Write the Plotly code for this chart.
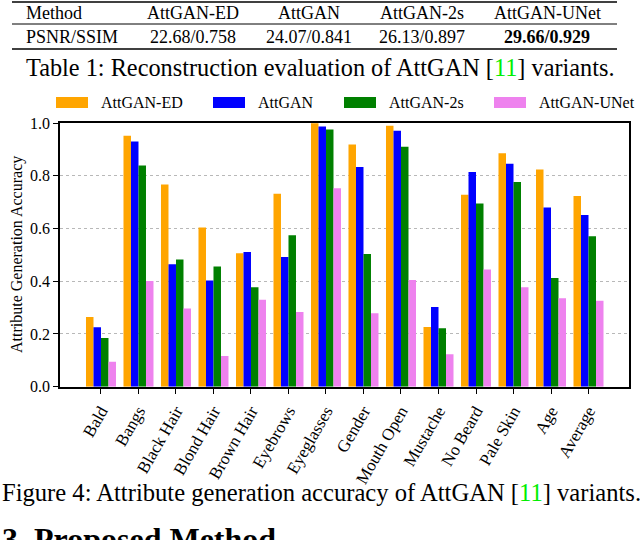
import plotly.graph_objects as go

attributes = ["Bald", "Bangs", "Black Hair", "Blond Hair", "Brown Hair", "Eyebrows",
              "Eyeglasses", "Gender", "Mouth Open", "Mustache", "No Beard",
              "Pale Skin", "Age", "Average"]
variants = ["AttGAN-ED", "AttGAN", "AttGAN-2s", "AttGAN-UNet"]
acc_ed = [0.264, 0.952, 0.767, 0.604, 0.506, 0.732, 0.999, 0.918, 0.990, 0.226, 0.728, 0.885, 0.824, 0.723]
acc_attgan = [0.225, 0.930, 0.464, 0.403, 0.511, 0.492, 0.987, 0.833, 0.971, 0.302, 0.814, 0.845, 0.680, 0.651]
acc_2s = [0.185, 0.839, 0.482, 0.456, 0.377, 0.574, 0.975, 0.503, 0.910, 0.222, 0.695, 0.776, 0.412, 0.571]
acc_unet = [0.095, 0.401, 0.297, 0.116, 0.330, 0.283, 0.753, 0.279, 0.405, 0.123, 0.444, 0.377, 0.335, 0.326]

table_header = ["Method", "AttGAN-ED", "AttGAN", "AttGAN-2s", "AttGAN-UNet"]
table_row = ["PSNR/SSIM", "22.68/0.758", "24.07/0.841", "26.13/0.897", "<b>29.66/0.929</b>"]

colors = ["orange", "blue", "green", "violet"]
serif = "Times New Roman, Liberation Serif, Tinos, serif"
W, H = 640, 540


def px(x):
    return x / W


def py(y):
    return 1 - y / H


fig = go.Figure()
for name, vals, c in zip(variants, [acc_ed, acc_attgan, acc_2s, acc_unet], colors):
    fig.add_trace(go.Bar(x=attributes, y=vals, name=name, marker_color=c,
                         marker_line_width=0, showlegend=False))

# table (booktabs style)
table_cols = [24, 193, 309, 422, 547]
shapes = [
    dict(type="line", xref="paper", yref="paper", x0=px(12), x1=px(617), y0=py(2), y1=py(2),
         line=dict(color="black", width=1.5)),
    dict(type="line", xref="paper", yref="paper", x0=px(12), x1=px(617), y0=py(24), y1=py(24),
         line=dict(color="black", width=1)),
    dict(type="line", xref="paper", yref="paper", x0=px(12), x1=px(617), y0=py(49), y1=py(49),
         line=dict(color="black", width=1.5)),
]
annotations = []
for i, (h, r) in enumerate(zip(table_header, table_row)):
    anchor = "left" if i == 0 else "center"
    annotations.append(dict(text=h, x=px(table_cols[i]), y=py(13), xref="paper", yref="paper",
                            xanchor=anchor, yanchor="middle", showarrow=False,
                            font=dict(size=18)))
    annotations.append(dict(text=r, x=px(table_cols[i]), y=py(37), xref="paper", yref="paper",
                            xanchor=anchor, yanchor="middle", showarrow=False,
                            font=dict(size=18)))

cite = "[<span style='color:#00ee00'>11</span>]"
annotations.append(dict(text="Table 1: Reconstruction evaluation of AttGAN " + cite + " variants.",
                        x=px(320), y=py(67), xref="paper", yref="paper", showarrow=False,
                        xanchor="center", yanchor="middle", font=dict(size=24.3)))
annotations.append(dict(text="Figure 4: Attribute generation accuracy of AttGAN " + cite + " variants.",
                        x=px(321), y=py(492), xref="paper", yref="paper", showarrow=False,
                        xanchor="center", yanchor="middle", font=dict(size=24.6)))
annotations.append(dict(text="<b>3. Proposed Method</b>", x=px(0), y=py(519), xref="paper",
                        yref="paper", showarrow=False, xanchor="left", yanchor="top",
                        font=dict(size=32)))

# y title
annotations.append(dict(text="Attribute Generation Accuracy", x=px(17), y=py(255), xref="paper",
                        yref="paper", showarrow=False, textangle=-90, xanchor="center",
                        yanchor="middle", font=dict(size=16)))

# legend drawn by hand (wide patches)
legend_x = [56, 213, 344, 494]
for lx, name, c in zip(legend_x, variants, colors):
    shapes.append(dict(type="rect", xref="paper", yref="paper", x0=px(lx), x1=px(lx + 32),
                       y0=py(108), y1=py(97), fillcolor=c, line=dict(width=0)))
    annotations.append(dict(text=name, x=px(lx + 43), y=py(102.5), xref="paper", yref="paper",
                            xanchor="left", yanchor="middle", showarrow=False,
                            font=dict(size=16)))

fig.update_layout(
    template="none",
    width=W, height=H,
    margin=dict(l=0, r=0, t=0, b=0),
    paper_bgcolor="white", plot_bgcolor="white",
    font=dict(family=serif, color="black"),
    barmode="group", bargap=0.2, bargroupgap=0,
    shapes=shapes, annotations=annotations,
)
fig.update_xaxes(domain=[px(60), px(629)], range=[-1.093, 14.08], type="category",
                 tickangle=-60, ticks="outside", ticklen=6, tickcolor="black",
                 showline=True, linecolor="black", linewidth=1.5, mirror=True,
                 showgrid=False, zeroline=False, tickfont=dict(size=17), automargin=False)
fig.update_yaxes(domain=[py(386.7), py(123)], range=[0, 1.0], tickvals=[0, 0.2, 0.4, 0.6, 0.8, 1.0],
                 tickformat=".1f", ticks="outside", ticklen=5, tickcolor="black",
                 showline=True, linecolor="black", linewidth=1.5, mirror=True,
                 showgrid=True, gridcolor="#b8b8b8", griddash="dot", gridwidth=1,
                 zeroline=False, tickfont=dict(size=16), automargin=False)

# page body has a default 8px margin; drop it so the figure fills the window
fig.write_html("out.html", config={"displayModeBar": False},
               post_script="document.body.style.margin='0';")
